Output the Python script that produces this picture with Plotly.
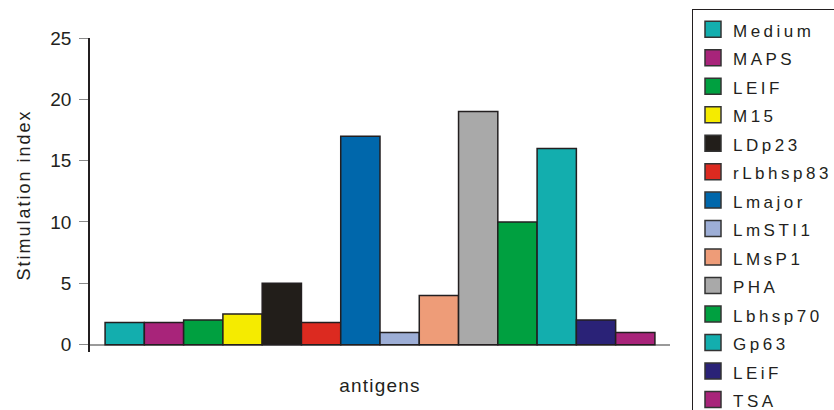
import plotly.graph_objects as go

# ---- data ----
antigens = ["Medium", "MAPS", "LEIF", "M15", "LDp23", "rLbhsp83", "Lmajor",
            "LmSTI1", "LMsP1", "PHA", "Lbhsp70", "Gp63", "LEiF", "TSA"]
stimulation_index = [1.8, 1.8, 2.0, 2.5, 5.0, 1.8, 17.0,
                     1.0, 4.0, 19.0, 10.0, 16.0, 2.0, 1.0]
bar_colors = ["#13AEAE", "#A8247A", "#00A040", "#F5EB00", "#221E1A", "#DC2A20", "#0067AB",
              "#9DAED6", "#EE9C78", "#A9A9A9", "#00A040", "#13AEAE", "#2A2277", "#A8247A"]
category = ["antigens"]
y_ticks = [0, 5, 10, 15, 20, 25]

FONT = "Liberation Sans, Arial, Helvetica, sans-serif"
TXT = "#231F20"

fig = go.Figure()

# bars (data marks)
for name, val, col in zip(antigens, stimulation_index, bar_colors):
    fig.add_trace(go.Bar(
        x=category, y=[val], name=name, showlegend=False,
        marker=dict(color=col, line=dict(color="#231F20", width=1.5)),
    ))

# legend entries (larger square swatches)
for name, col in zip(antigens, bar_colors):
    fig.add_trace(go.Scatter(
        x=[None], y=[None], mode="markers",
        name=f'<span style="font-size:17px;letter-spacing:3.5px">{name}</span>' + "\u00a0" * 5,
        marker=dict(symbol="square", size=16, color=col,
                    line=dict(color="#333333", width=1.5)),
        showlegend=True, hoverinfo="skip",
    ))

fig.update_layout(
    width=834, height=410,
    margin=dict(l=90, r=164, t=38, b=58, autoexpand=False),
    paper_bgcolor="white", plot_bgcolor="white",
    barmode="group", bargap=0.052, bargroupgap=0,
    font=dict(family=FONT, color=TXT, size=19),
    showlegend=True,
    legend=dict(
        x=(692 - 90) / 580, xref="paper", xanchor="left",
        y=1 + 29 / 314, yanchor="top",
        bgcolor="white", bordercolor="#231F20", borderwidth=1,
        font=dict(family=FONT, size=19.6, color=TXT),
        traceorder="normal", itemsizing="trace",
        maxheight=2000,
    ),
    xaxis=dict(
        type="category", showline=False, ticks="", showticklabels=False,
        showgrid=False, zeroline=False, automargin=False,
        title=dict(text='<span style="letter-spacing:1.2px">antigens</span>',
                   font=dict(size=19, family=FONT, color=TXT), standoff=26),
    ),
    yaxis=dict(
        range=[-0.6, 25], tickvals=y_ticks, ticks="outside", ticklen=9,
        tickwidth=1, tickcolor="#8A8A8A", automargin=False, ticklabelstandoff=4,
        showline=True, linecolor="#231F20", linewidth=1.5,
        showgrid=False, zeroline=True, zerolinecolor="#9A9A9A", zerolinewidth=2,
        tickfont=dict(size=19, family=FONT, color=TXT),
        title=dict(text='<span style="letter-spacing:2px">Stimulation index</span>',
                   font=dict(size=18, family=FONT, color=TXT), standoff=15),
    ),
)

fig.write_html("out.html", config={"displayModeBar": False},
               post_script="document.body.style.margin='0px';")
